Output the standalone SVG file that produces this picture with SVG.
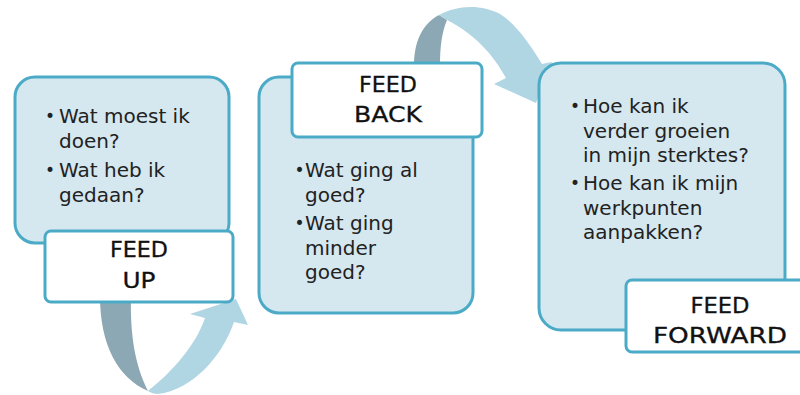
<svg xmlns="http://www.w3.org/2000/svg" width="800" height="395" viewBox="0 0 800 395">
<style>
.box{fill:#d5e7ef;stroke:#4babc7;stroke-width:3}
.lbl{fill:#ffffff;stroke:#4babc7;stroke-width:3}
.t{font-family:"DejaVu Sans",sans-serif;font-size:20px;fill:#222222}
.b{font-family:"DejaVu Sans",sans-serif;font-size:17px;fill:#222222}
.h{font-family:"DejaVu Sans",sans-serif;font-size:21px;fill:#111111;stroke:#111111;stroke-width:0.3;text-anchor:middle}
.dark{fill:#8ca8b4}
.light{fill:#b0d5e3}
</style>
<rect width="800" height="395" fill="#ffffff"/>
<g id="connectors">
  <path class="dark" d="M100,296 L131,296 C130,335 135,365 148,391 C118,378 100,345 100,296 Z"/>
  <path class="light" d="M148,391 C172,372 196,345 205,318 L190,314 L236,299 L248,325 L234,322 C222,357 192,390 158,394 C154,394 151,393 148,391 Z"/>
  <path class="dark" d="M414,66 C414,42 422,24 439,15 L447,20 C442,32 440,46 440,66 Z"/>
  <path class="light" d="M439,15 C455,6 480,3 500,14 C516,24 530,44 542,64 L552,62 L536,103 L494,84 L506,78 C495,58 478,36 447,20 Z"/>
</g>
<g id="feed-up-box">
  <rect class="box" x="15" y="77" width="214" height="166" rx="20"/>
  <text class="b" x="45" y="122">•</text>
  <text class="t" x="59" y="123">Wat moest ik</text>
  <text class="t" x="59" y="148">doen?</text>
  <text class="b" x="45" y="176">•</text>
  <text class="t" x="59" y="177">Wat heb ik</text>
  <text class="t" x="59" y="202">gedaan?</text>
</g>
<g id="feed-up-label">
  <rect class="lbl" x="45" y="231" width="188" height="71" rx="6"/>
  <text class="h" x="139" y="257" textLength="58" lengthAdjust="spacingAndGlyphs">FEED</text>
  <text class="h" x="139" y="288" textLength="33" lengthAdjust="spacingAndGlyphs">UP</text>
</g>
<g id="feed-back-box">
  <rect class="box" x="259" y="77" width="214" height="236" rx="20"/>
  <text class="b" x="294.5" y="176">•</text>
  <text class="t" x="305" y="177">Wat ging al</text>
  <text class="t" x="305" y="202">goed?</text>
  <text class="b" x="294.5" y="229">•</text>
  <text class="t" x="305" y="230">Wat ging</text>
  <text class="t" x="305" y="255">minder</text>
  <text class="t" x="305" y="279">goed?</text>
</g>
<g id="feed-back-label">
  <rect class="lbl" x="292" y="63" width="190" height="74" rx="6"/>
  <text class="h" x="388" y="92" textLength="58" lengthAdjust="spacingAndGlyphs">FEED</text>
  <text class="h" x="388" y="122" textLength="68" lengthAdjust="spacingAndGlyphs">BACK</text>
</g>
<g id="feed-forward-box">
  <rect class="box" x="539" y="63" width="246" height="267" rx="22"/>
  <text class="b" x="570" y="112">•</text>
  <text class="t" x="583" y="113">Hoe kan ik</text>
  <text class="t" x="583" y="138">verder groeien</text>
  <text class="t" x="583" y="162">in mijn sterktes?</text>
  <text class="b" x="570" y="189">•</text>
  <text class="t" x="583" y="190">Hoe kan ik mijn</text>
  <text class="t" x="583" y="215">werkpunten</text>
  <text class="t" x="583" y="239">aanpakken?</text>
</g>
<g id="feed-forward-label">
  <rect class="lbl" x="626" y="280" width="190" height="72" rx="6"/>
  <text class="h" x="720" y="313" textLength="59" lengthAdjust="spacingAndGlyphs">FEED</text>
  <text class="h" x="720" y="343" textLength="134" lengthAdjust="spacingAndGlyphs">FORWARD</text>
</g>
</svg>
